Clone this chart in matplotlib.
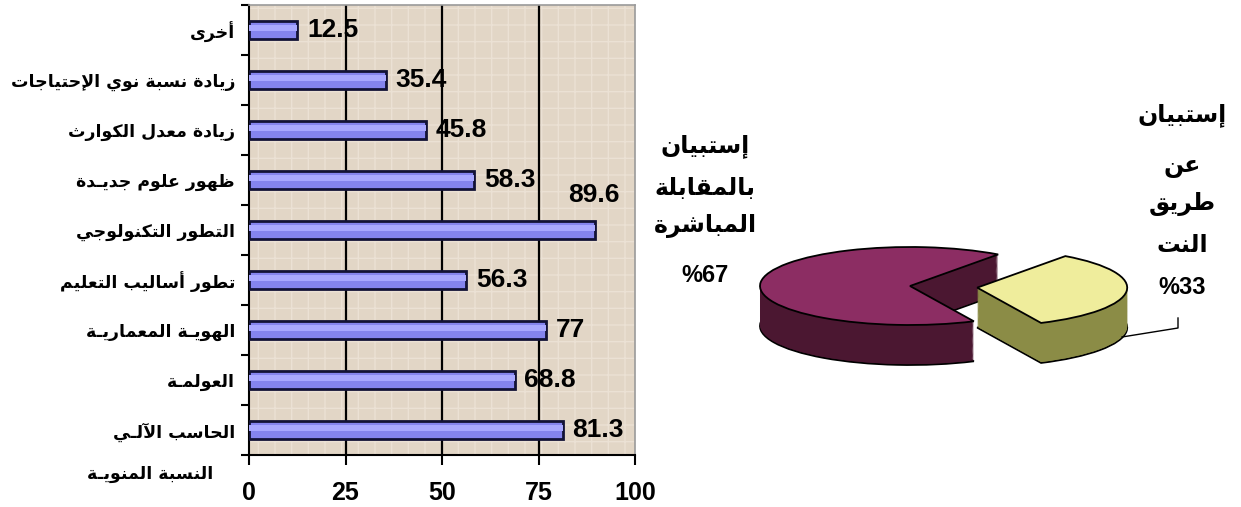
import numpy as np
import matplotlib
matplotlib.use('Agg')
import matplotlib.pyplot as plt
from matplotlib.lines import Line2D
from matplotlib.patches import Rectangle

# Data (bottom to top, as drawn on the bar chart)
categories = ['الحاسب الآلـي', 'العولمـة', 'الهويـة المعماريـة', 'تطور أساليب التعليم',
              'التطور التكنولوجي', 'ظهور علوم جديـدة', 'زيادة معدل الكوارث',
              'زيادة نسبة نوي الإحتياجات', 'أخرى']
values = [81.3, 68.8, 77, 56.3, 89.6, 58.3, 45.8, 35.4, 12.5]
xticks = [0, 25, 50, 75, 100]
xlabel = 'النسبة المنويـة'

pie_values = [67, 33]
pie_left_label = ['إستبيان', 'بالمقابلة', 'المباشرة', '%67']
pie_right_label = ['إستبيان', 'عن', 'طريق', 'النت', '%33']

# --- small Arabic shaper (matplotlib draws glyphs left to right, no joining) ---
FORMS = {
    'ء': (0xFE80, 1), 'آ': (0xFE81, 2), 'أ': (0xFE83, 2), 'ؤ': (0xFE85, 2),
    'إ': (0xFE87, 2), 'ئ': (0xFE89, 4), 'ا': (0xFE8D, 2), 'ب': (0xFE8F, 4),
    'ة': (0xFE93, 2), 'ت': (0xFE95, 4), 'ث': (0xFE99, 4), 'ج': (0xFE9D, 4),
    'ح': (0xFEA1, 4), 'خ': (0xFEA5, 4), 'د': (0xFEA9, 2), 'ذ': (0xFEAB, 2),
    'ر': (0xFEAD, 2), 'ز': (0xFEAF, 2), 'س': (0xFEB1, 4), 'ش': (0xFEB5, 4),
    'ص': (0xFEB9, 4), 'ض': (0xFEBD, 4), 'ط': (0xFEC1, 4), 'ظ': (0xFEC5, 4),
    'ع': (0xFEC9, 4), 'غ': (0xFECD, 4), 'ف': (0xFED1, 4), 'ق': (0xFED5, 4),
    'ك': (0xFED9, 4), 'ل': (0xFEDD, 4), 'م': (0xFEE1, 4), 'ن': (0xFEE5, 4),
    'ه': (0xFEE9, 4), 'و': (0xFEED, 2), 'ى': (0xFEEF, 2), 'ي': (0xFEF1, 4),
}
LAM_ALEF = {'آ': 0xFEF5, 'أ': 0xFEF7, 'إ': 0xFEF9, 'ا': 0xFEFB}
TATWEEL = 'ـ'


def shape(text):
    units = []
    i = 0
    while i < len(text):
        c = text[i]
        if c == 'ل' and i + 1 < len(text) and text[i + 1] in LAM_ALEF:
            units.append(('LA', text[i + 1]))
            i += 2
        else:
            units.append(c)
            i += 1

    def can_prev(u):
        if isinstance(u, tuple) or u == TATWEEL:
            return True
        return u in FORMS and FORMS[u][1] >= 2

    def can_next(u):
        if isinstance(u, tuple):
            return False
        if u == TATWEEL:
            return True
        return u in FORMS and FORMS[u][1] == 4

    out = []
    for k, u in enumerate(units):
        p = k > 0 and can_next(units[k - 1]) and can_prev(u)
        n = k < len(units) - 1 and can_next(u) and can_prev(units[k + 1])
        if isinstance(u, tuple):
            out.append(chr(LAM_ALEF[u[1]] + (1 if p else 0)))
        elif u in FORMS:
            base, nf = FORMS[u]
            idx = 0
            if nf == 2:
                idx = 1 if p else 0
            elif nf == 4:
                idx = 3 if (p and n) else 1 if p else 2 if n else 0
            out.append(chr(base + idx))
        else:
            out.append(u)
    return ''.join(reversed(out))


AR = ['DejaVu Sans']
NUM = ['Liberation Sans', 'DejaVu Sans']

W, H = 1241, 507
fig = plt.figure(figsize=(W / 100, H / 100), dpi=100)
fig.patch.set_facecolor('white')


def fx(px):
    return px / W


def fy(py):
    return 1 - py / H


# --- bar chart ---
ax = fig.add_axes([fx(249), fy(455), fx(635) - fx(249), fy(5) - fy(455)])
ax.set_facecolor('#e2d6c6')
# faint paper-like texture
ax.add_patch(Rectangle((0, 0), 1, 1, transform=ax.transAxes, facecolor='none',
                       edgecolor='#ebe1d4', linewidth=0, hatch='+', zorder=0.5))
y = np.arange(len(categories))
ax.barh(y, values, height=0.36, color='#8484ee', edgecolor='#121236', linewidth=2, zorder=3)
# lighter band to mimic the rounded 3D bars
ax.barh(y + 0.04, values, height=0.12, color='#a8a8ff', linewidth=0, zorder=3.5)
ax.set_xlim(0, 100)
ax.set_ylim(-0.5, len(categories) - 0.5)
for g in xticks[1:-1]:
    ax.axvline(g, color='black', linewidth=1.6, zorder=1)

ax.set_xticks(xticks)
ax.set_xticklabels([str(t) for t in xticks], family=NUM, fontweight='bold', fontsize=18)
ax.tick_params(axis='x', direction='out', length=7, width=1.5, pad=12)
ax.set_yticks(y)
ax.set_yticklabels([shape(c) for c in categories], family=AR, fontweight='bold', fontsize=12.5)
ax.tick_params(axis='y', which='major', length=0, pad=10)
ax.set_yticks(np.arange(len(categories) + 1) - 0.5, minor=True)
ax.tick_params(axis='y', which='minor', direction='out', length=6, width=1.5)
for s in ['left', 'bottom']:
    ax.spines[s].set_color('black')
    ax.spines[s].set_linewidth(1.5)
for s in ['top', 'right']:
    ax.spines[s].set_color('#9a9a9a')
    ax.spines[s].set_linewidth(1.2)

for yi, v in zip(y, values):
    if v == max(values):
        ax.annotate(f'{v:g}', (v, yi), xytext=(-1, 25), textcoords='offset points',
                    ha='center', va='center', family=NUM, fontweight='bold', fontsize=19)
    else:
        ax.annotate(f'{v:g}', (v, yi), xytext=(7, 0), textcoords='offset points',
                    ha='left', va='center', family=NUM, fontweight='bold', fontsize=19)

fig.text(fx(213), fy(474), shape(xlabel), ha='right', va='center', family=AR,
         fontweight='bold', fontsize=12.5)

# --- 3D-looking pie ---
pax = fig.add_axes([fx(700), fy(420), fx(1241) - fx(700), fy(200) - fy(420)])
top_colors = ['#8c2d63', '#efed9c']
side_colors = ['#4b1731', '#8b8c46']
explode = [0, 0.45]
depth = 40 / 39
start = 54
pax.pie(pie_values, colors=side_colors, startangle=start, explode=explode,
        center=(0, -depth), wedgeprops=dict(edgecolor='black', linewidth=1.3))
for d in np.linspace(depth, 0, 45)[1:-1]:
    pax.pie(pie_values, colors=side_colors, startangle=start, explode=explode,
            center=(0, -d), wedgeprops=dict(linewidth=0))
pax.pie(pie_values, colors=top_colors, startangle=start, explode=explode,
        wedgeprops=dict(edgecolor='black', linewidth=1.3))
pax.set_aspect('auto')
pax.set_xlim((700 - 910) / 150, (1241 - 910) / 150)
pax.set_ylim((286 - 420) / 39, (286 - 200) / 39)
pax.axis('off')

for line, py in zip(pie_left_label, [146, 188, 226, 276]):
    fig.text(fx(705), fy(py), shape(line) if '%' not in line else line, ha='center', va='center',
             family=NUM if '%' in line else AR, fontweight='bold', fontsize=17)
for line, py in zip(pie_right_label, [115, 166, 204, 245, 288]):
    fig.text(fx(1182), fy(py), shape(line) if '%' not in line else line, ha='center', va='center',
             family=NUM if '%' in line else AR, fontweight='bold', fontsize=17)

fig.add_artist(Line2D([fx(1178), fx(1178), fx(1122)], [fy(318), fy(328), fy(337)],
                      color='black', linewidth=1))

fig.savefig('out.png', dpi=100)
